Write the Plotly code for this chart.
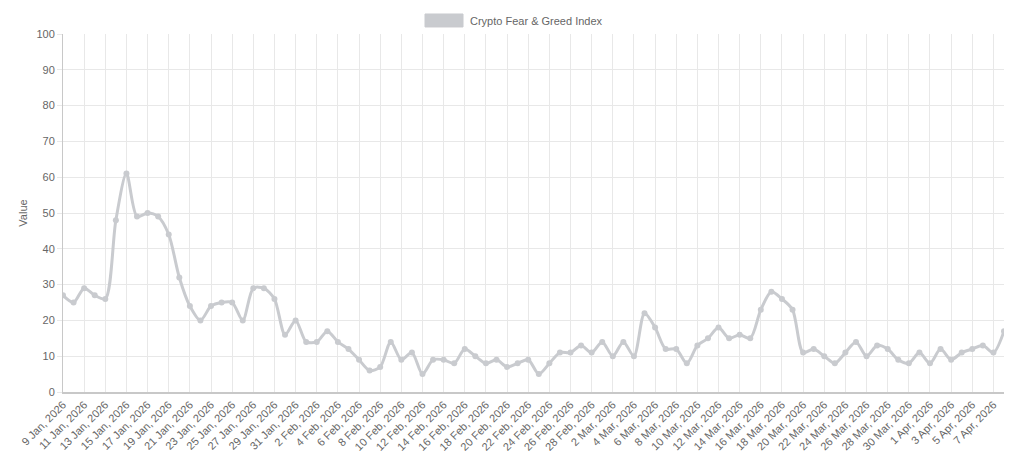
import pandas as pd
import plotly.graph_objects as go

# Datas (9 Jan 2026 a 8 Apr 2026, um ponto por dia)
datas = pd.date_range("2026-01-09", "2026-04-08", freq="D")
rotulos = [f"{d.day} {d.strftime('%b')}, {d.year}" for d in datas]

# Valores do índice
valores_jan = [27, 25, 29, 27, 26, 48, 61, 49, 50, 49, 44, 32, 24, 20, 24, 25, 25, 20, 29, 29, 26, 16, 20]
valores_fev = [14, 14, 17, 14, 12, 9, 6, 7, 14, 9, 11, 5, 9, 9, 8, 12, 10, 8, 9, 7, 8, 9, 5, 8, 11, 11, 13, 11]
valores_mar = [14, 10, 14, 10, 22, 18, 12, 12, 8, 13, 15, 18, 15, 16, 15, 23, 28, 26, 23, 11, 12, 10, 8, 11,
               14, 10, 13, 12, 9, 8, 11]
valores_abr = [8, 12, 9, 11, 12, 13, 11, 17]
valores = valores_jan + valores_fev + valores_mar + valores_abr

nome_serie = "Crypto Fear & Greed Index"
cor = "rgb(201, 203, 207)"
cinza_texto = "#666666"
cinza_grade = "#e8e8e8"
fonte = "Liberation Sans, Arial, Helvetica, sans-serif"

fig = go.Figure()

fig.add_trace(go.Scatter(
    x=rotulos, y=valores, mode="lines+markers", name=nome_serie,
    line=dict(color=cor, width=3, shape="spline", smoothing=0.8),
    marker=dict(color=cor, size=6),
    showlegend=False,
))

# Legenda no estilo Chart.js: caixa cinza + texto, acima do gráfico
fig.add_shape(
    type="rect", xref="paper", yref="paper",
    x0=0.3847, x1=0.4251, y0=1.0196, y1=1.0559,
    fillcolor=cor, line=dict(color=cor, width=1),
)
fig.add_annotation(
    text=nome_serie, xref="paper", yref="paper",
    x=0.4304, y=1.0377, xanchor="left", yanchor="middle",
    showarrow=False, font=dict(size=11, color=cinza_texto),
)

fig.update_layout(
    width=1024, height=462,
    margin=dict(l=63, r=20, t=34, b=70),
    paper_bgcolor="white", plot_bgcolor="white",
    font=dict(family=fonte, size=11, color=cinza_texto),
    showlegend=False,
    hovermode="closest",
)

fig.update_xaxes(
    type="category", range=[0, len(rotulos) - 1],
    tickmode="array", tickvals=rotulos[::2], ticktext=rotulos[::2],
    tickangle=-45, tickfont=dict(size=11, color=cinza_texto),
    showgrid=True, gridcolor=cinza_grade, gridwidth=1,
    showline=True, linecolor="#c8c8c8", linewidth=2,
    ticks="", zeroline=False, automargin=False,
)

fig.update_yaxes(
    range=[0, 100], tickmode="linear", dtick=10,
    tickfont=dict(size=11, color=cinza_texto),
    showgrid=True, gridcolor=cinza_grade, gridwidth=1,
    showline=True, linecolor="#c8c8c8", linewidth=1,
    ticks="outside", ticklen=5, tickcolor=cinza_grade,
    zeroline=False, automargin=False,
    title=dict(text="Value", standoff=6, font=dict(size=11, color=cinza_texto)),
)

# Sem margem do body, para a figura ocupar a janela exatamente
fig.write_html(
    "out.html",
    config={"displayModeBar": False},
    post_script="document.body.style.margin='0px';",
)
